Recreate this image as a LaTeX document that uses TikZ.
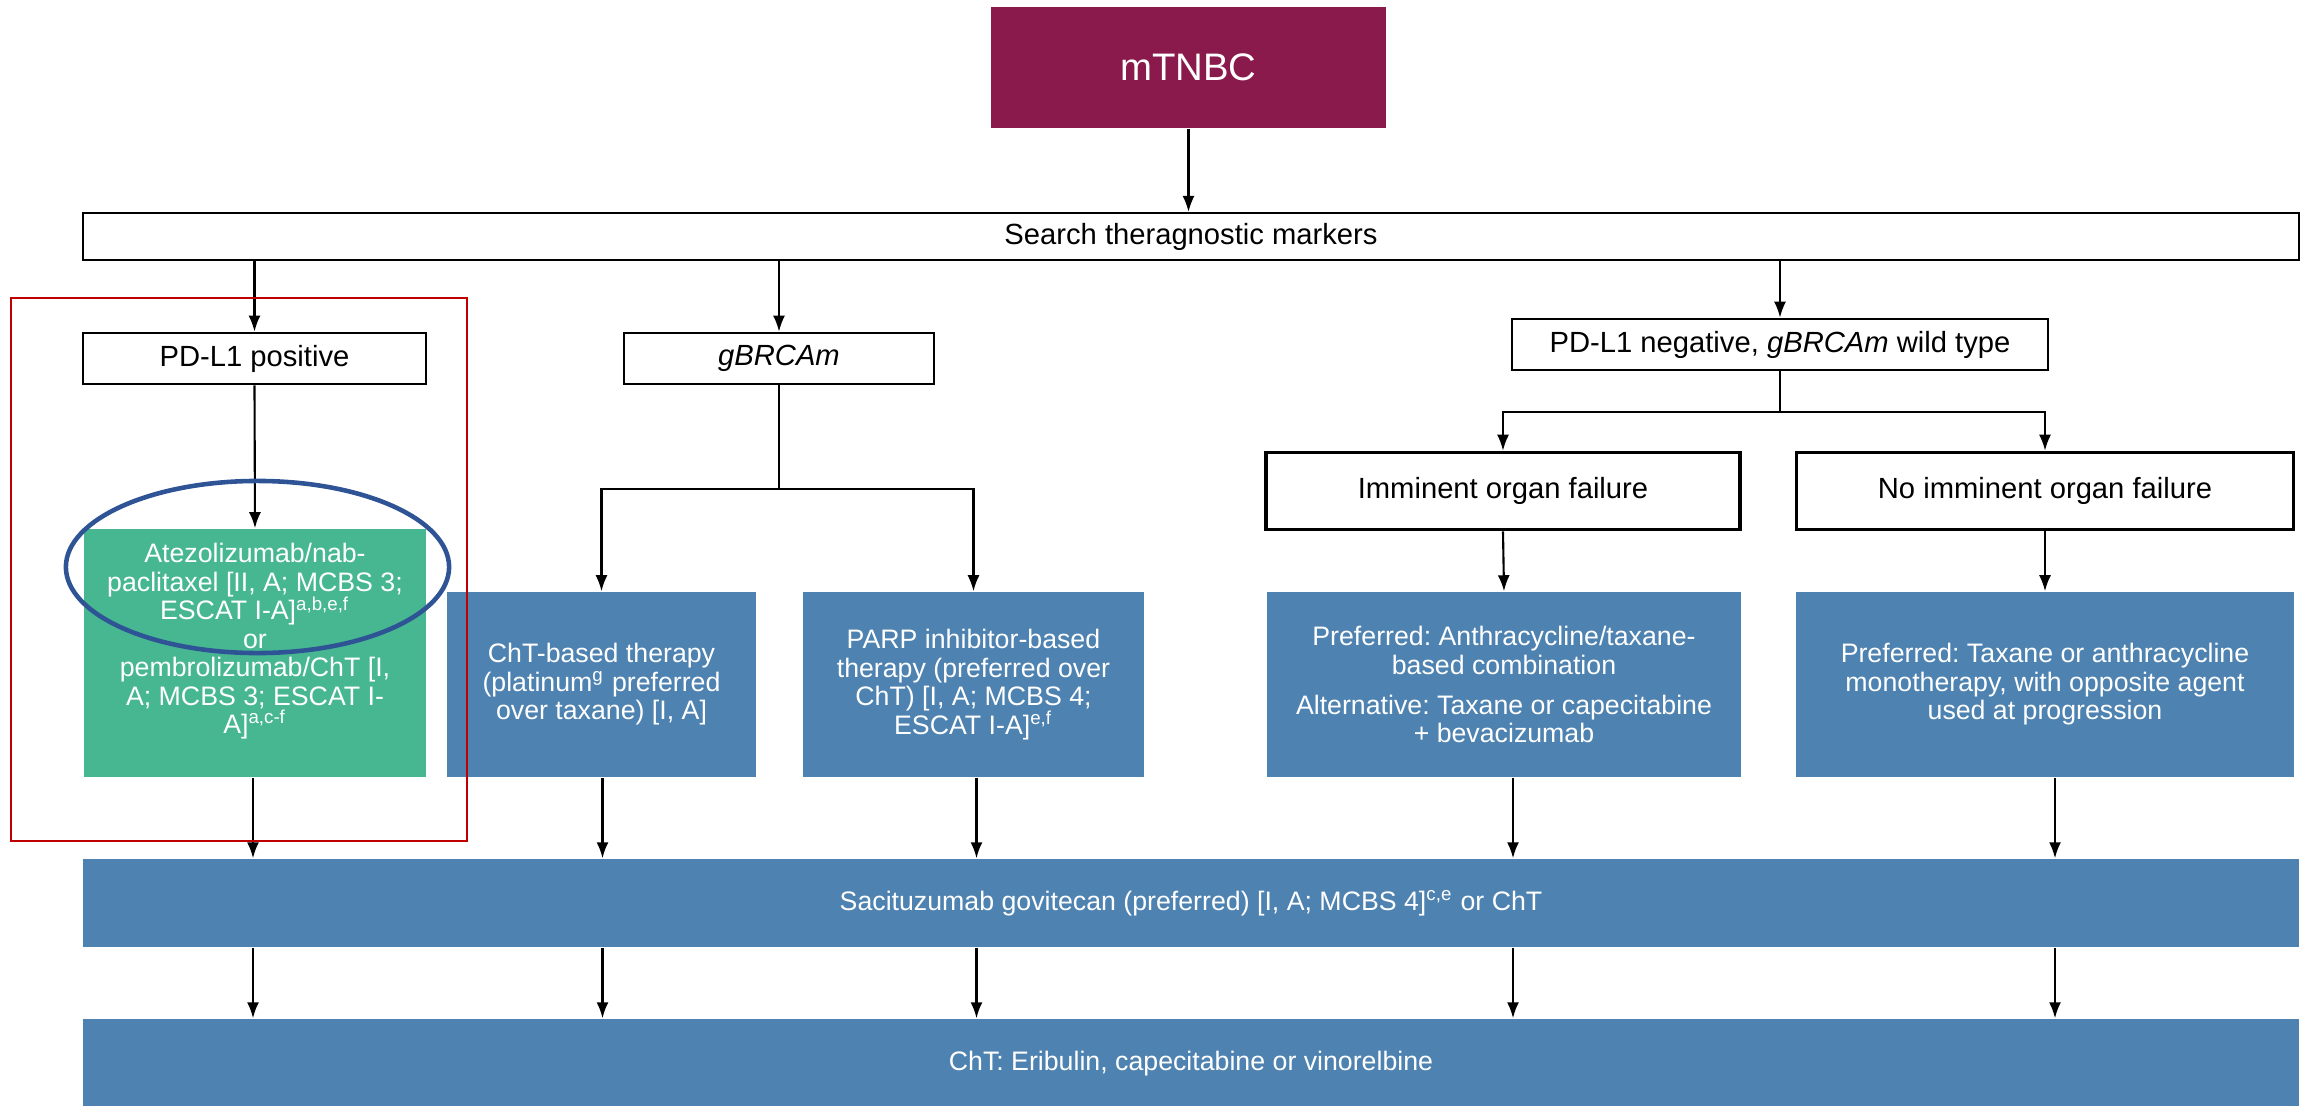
\documentclass[tikz,border=0pt]{standalone}
\usepackage{fontspec}
\setmainfont{Liberation Sans}
\usepackage{tikz}
\usetikzlibrary{
  calc,
  positioning,
  arrows.meta
}
\definecolor{wine}{RGB}{137,26,75}
\definecolor{steel}{RGB}{78,130,176}
\definecolor{jade}{RGB}{71,183,145}
\definecolor{ring}{RGB}{47,84,150}
\definecolor{frame}{RGB}{192,0,0}
\newcommand\labelfont{\fontsize{8.3}{9.5}\selectfont}
\newcommand\txtfont{\fontsize{7.6}{8.1}\selectfont\lineskiplimit=-10pt}
\frenchspacing

\begin{document}
\begin{tikzpicture}[
  x=0.01cm, y=-0.01cm,
  head/.style={
    fill=wine,
    text=white,
    font=\fontsize{10.9}{12}\selectfont,
    minimum width=3.95cm,
    minimum height=1.21cm
  },
  markerbox/.style={
    draw=black,
    fill=white,
    line width=0.75pt,
    font=\labelfont,
    inner sep=0pt
  },
  organbox/.style={
    markerbox,
    line width=1pt,
    minimum height=0.77cm
  },
  therapy/.style={
    fill=steel,
    text=white,
    align=center,
    font=\txtfont,
    inner sep=2pt,
    minimum height=1.85cm
  },
  lane/.style={
    fill=steel,
    text=white,
    font=\txtfont,
    minimum width=22.14cm
  },
  arr/.style={
    ->,
    >={Latex[length=1.6mm,width=1.2mm]},
    line width=0.6pt
  }
]
\useasboundingbox (0,0) rectangle (2305,1106);

  \node[head] (mtnbc) at (1188.5,67.5) {mTNBC};

  \node[markerbox,line width=0.6pt,minimum width=22.14cm,minimum height=0.47cm]
    (search) at (1191,236.5) {Search theragnostic markers};

  \node[markerbox,minimum width=3.43cm,minimum height=0.51cm]
    (pdpos) at (254.5,358.5) {PD-L1 positive};
  \node[markerbox,minimum width=3.10cm,minimum height=0.51cm]
    (gbrca) at (779,358.5) {\textit{gBRCAm}};
  \node[markerbox,minimum width=5.36cm,minimum height=0.51cm]
    (pdneg) at (1780,344.5) {PD-L1 negative, \textit{gBRCAm} wild type};

  \node[organbox,minimum width=4.74cm] (imm) at (1503,491) {Imminent organ failure};
  \node[organbox,minimum width=4.97cm] (noimm) at (2045,491) {No imminent organ failure};


  \node[therapy,fill=jade,minimum width=3.42cm,minimum height=2.48cm]
    (green) at (255,653)
  {
    Atezolizumab/nab-\\
    paclitaxel [II, A; MCBS 3;\\
    ESCAT I-A]\textsuperscript{a,b,e,f}\\
    or\\
    pembrolizumab/ChT [I,\\
    A; MCBS 3; ESCAT I-\\
    A]\textsuperscript{a,c-f}\\
    ~
  };

  \node[therapy,minimum width=3.09cm] (cht) at (601.5,684.5)
  {
    ChT-based therapy\\
    (platinum\textsuperscript{g} preferred\\
    over taxane) [I, A]
  };

  \node[therapy,minimum width=3.41cm] (parp) at (973.5,684.5)
  {
    PARP inhibitor-based\\
    therapy (preferred over\\
    ChT) [I, A; MCBS 4;\\
    ESCAT I-A]\textsuperscript{e,f}
  };

  \node[therapy,minimum width=4.74cm] (immtx) at (1504,684.5)
  {
    Preferred: Anthracycline/taxane-\\
    based combination\\[3.3pt]
    Alternative: Taxane or capecitabine\\
    + bevacizumab
  };

  \node[therapy,minimum width=4.97cm] (noimmtx) at (2045,684.5)
  {
    Preferred: Taxane or anthracycline\\
    monotherapy, with opposite agent\\
    used at progression
  };

  \node[lane,minimum height=0.88cm] (saci) at (1191,903)
    {Sacituzumab govitecan (preferred) [I, A; MCBS 4]\textsuperscript{c,e} or ChT};
  \node[lane,minimum height=0.89cm] (chtl) at (1191,1063.5)
    {ChT: Eribulin, capecitabine or vinorelbine};


  \draw[arr] (mtnbc.south) -- (search.north -| mtnbc.south);
  \foreach \m in {pdpos,gbrca,pdneg}
    \draw[arr] (search.south -| \m.north) -- (\m.north);

  \draw[arr] (pdpos.south) -- (green.north);

  \coordinate (J1) at ($(gbrca.south)+(0,104)$);
  \draw[line width=0.6pt] (gbrca.south) -- (J1);
  \draw[arr] (J1) -| (cht.north);
  \draw[arr] (J1) -| (parp.north);

  \coordinate (J2) at ($(pdneg.south)+(0,41)$);
  \draw[line width=0.6pt] (pdneg.south) -- (J2);
  \draw[arr] (J2) -| (imm.north);
  \draw[arr] (J2) -| (noimm.north);

  \draw[arr] (imm.south) -- (immtx.north);
  \draw[arr] (noimm.south) -- (noimmtx.north);

  \foreach \b/\s in {green/-2,cht/1,parp/3,immtx/9,noimmtx/10} {
    \draw[arr] ([xshift=\s*0.01cm]\b.south) -- ([xshift=\s*0.01cm]\b.south |- saci.north);
    \draw[arr] ([xshift=\s*0.01cm]\b.south |- saci.south) -- ([xshift=\s*0.01cm]\b.south |- chtl.north);
  }

  % highlight
  \draw[frame,line width=0.6pt] (11,298) rectangle (467,841);
  \draw[ring,line width=1.3pt] (257.5,567) ellipse [x radius=1.915cm,y radius=0.86cm];

\end{tikzpicture}
\end{document}
